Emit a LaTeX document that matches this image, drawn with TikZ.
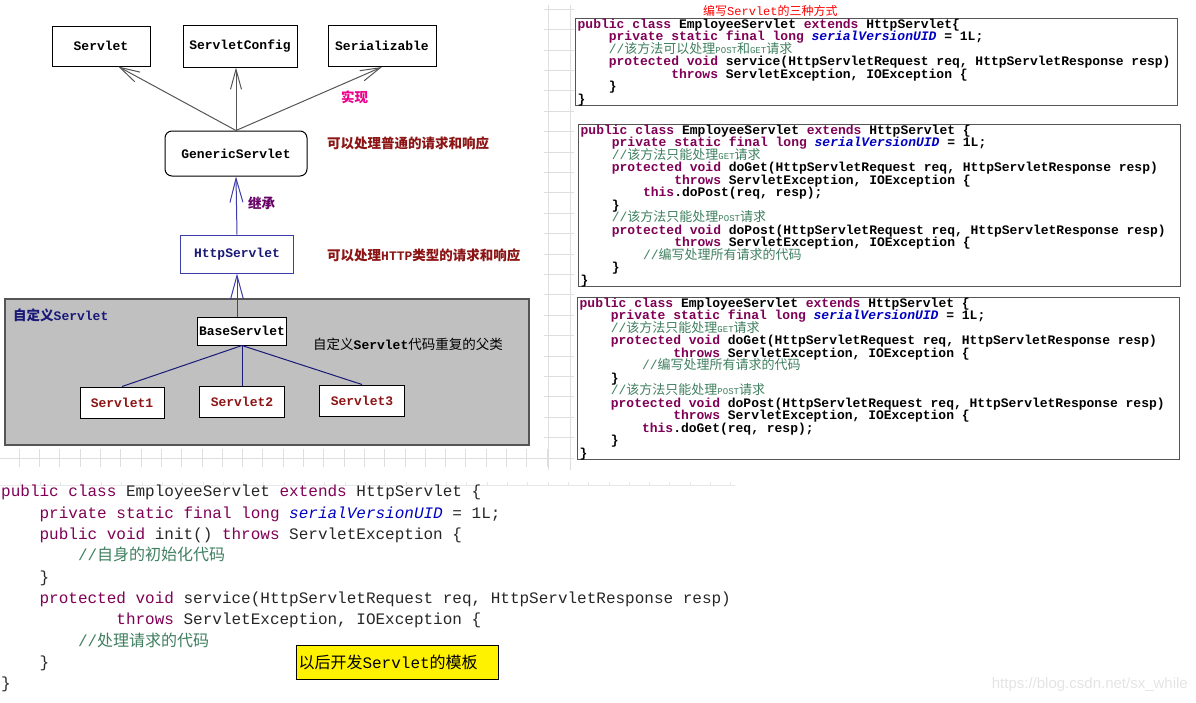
\documentclass[tikz,border=0pt]{standalone}
\usepackage{fontspec}
\setmainfont{Liberation Serif}
\setmonofont{Liberation Mono}[WordSpace={1,0,0}]
\newfontfamily\cjk{Noto Sans CJK SC}
\newfontfamily\wmfont{Liberation Sans}
\usetikzlibrary{arrows.meta}
\usetikzlibrary{positioning}
\definecolor{kwcol}{RGB}{127,0,85}
\definecolor{fldcol}{RGB}{0,0,192}
\definecolor{cmtcol}{RGB}{63,127,95}
\definecolor{linegray}{RGB}{85,85,85}
\definecolor{inhblue}{RGB}{60,60,170}
\definecolor{deepblue}{RGB}{25,25,120}
\definecolor{brick}{RGB}{140,20,20}
\definecolor{regiongray}{RGB}{192,192,192}
\definecolor{gridgray}{RGB}{222,222,222}
\definecolor{wmgray}{RGB}{228,228,228}
\newcommand{\kw}[1]{\textcolor{kwcol}{#1}}
\newcommand{\fld}[1]{\textcolor{fldcol}{\itshape #1}}
\newcommand{\cmt}[1]{\textcolor{cmtcol}{\mdseries #1}}
\newcommand{\zh}[1]{{\cjk #1}}
\newcommand{\smc}[1]{{\fontsize{9}{9}\selectfont #1}}
\newcommand{\codeind}[1]{\hspace*{#1\fontcharwd\font`0}}
\newcommand{\diagfont}{\fontsize{13}{15}\selectfont\ttfamily\bfseries}
\newcommand{\rcode}{\fontsize{13}{12.5}\selectfont\ttfamily\bfseries\lineskiplimit=-20pt}
\newcommand{\bcode}{\fontsize{16}{21.33}\selectfont\ttfamily\lineskiplimit=-20pt}
\tikzset{klass/.style = {draw, fill=white, line width=1pt, inner sep=0, font=\diagfont}}
\tikzset{impl/.style = {draw=linegray, line width=1pt, -{Straight Barb[length=20pt,width=11pt]}}}
\tikzset{inh/.style = {draw=inhblue, line width=1pt, -{Straight Barb[length=24pt,width=13pt]}}}
\tikzset{note/.style = {anchor=west, inner sep=0, font=\fontsize{13.5}{16}\selectfont\cjk\bfseries}}
\tikzset{codebox/.style = {draw=linegray, line width=1.3pt, anchor=north west, align=flush left,
                           text width=598, inner xsep=2, inner ysep=0, font=\rcode}}
\tikzset{code/.style = {anchor=north west, align=left, inner sep=0, text=black!85, font=\bcode}}

\begin{document}
\begin{tikzpicture}[x=1pt, y=-1pt]
      \useasboundingbox (0,0) rectangle (1196,702);
      % faint sheet grid
      \draw [gridgray] (548,5) -- (548,470);
      \draw [gridgray] (570,5) -- (570,470);
      \foreach \gy in {9,29.4,...,458}
        \draw [gridgray] (544,\gy) -- (574,\gy);
      \draw [gridgray] (0,458) -- (574,458);
      \foreach \gx in {19,39.3,...,560}
        \draw [gridgray] (\gx,449) -- (\gx,467);
      \draw [gridgray!70] (0,485) -- (735,485);
      \foreach \gx in {20,40.3,...,735}
        \draw [gridgray!70] (\gx,482) -- (\gx,486);

      % class hierarchy
      \node (servlet) [klass, minimum width=98, minimum height=40] at (101,46) {Servlet};
      \node (sconfig) [klass, minimum width=114, minimum height=42] at (240,46) {ServletConfig};
      \node (serial) [klass, minimum width=108, minimum height=41] at (382,46) {Serializable};
      \node (generic) [klass, rounded corners=7, minimum width=142, minimum height=45] at (236,153.5) {GenericServlet};
      \node (http) [klass, draw=inhblue, text=deepblue, minimum width=113, minimum height=38] at (237,254) {HttpServlet};
      \draw [impl] (generic.north) -- (servlet.310);
      \draw [impl] (generic.north) -- (generic.north |- sconfig.south);
      \draw [impl] (generic.north) -- (serial.south);
      \draw [inh] (http.north) -- (generic.south);
      \node (implnote) [note, text=magenta] at (341,97) {实现};
      \node (inhnote) [note, text=violet!80!black] at (248,203) {继承};
      \node (gennote) [note, text=brick] at (327,143) {可以处理普通的请求和响应};
      \node (httpnote) [note, text=brick] at (327,255) {可以处理{\diagfont HTTP}类型的请求和响应};

      % own servlets
      \node (custom) [draw=linegray, line width=1.5pt, fill=regiongray, minimum width=524, minimum height=146,
                      anchor=north west, inner sep=0] at (4,298) {};
      \node (customnote) [note, text=deepblue] at (13,315) {自定义{\diagfont Servlet}};
      \node (base) [klass, minimum width=89, minimum height=28] at (242,331) {BaseServlet};
      \node (basenote) [note, font=\fontsize{13.5}{16}\selectfont\cjk] at (313,344) {自定义{\diagfont Servlet}代码重复的父类};
      \node (s1) [klass, text=brick, minimum width=84, minimum height=31] at (122,402.5) {Servlet1};
      \node (s2) [klass, text=brick, minimum width=85, minimum height=31] at (242,401.5) {Servlet2};
      \node (s3) [klass, text=brick, minimum width=85, minimum height=31] at (362,400.5) {Servlet3};
      \draw [inh] (http.south |- base.north) -- (http.south);
      \draw [deepblue, line width=1pt] (base.south) -- (s1.north);
      \draw [deepblue, line width=1pt] (base.south) -- (s2.north);
      \draw [deepblue, line width=1pt] (base.south) -- (s3.north);

      % three ways
      \node (waysnote) [anchor=west, inner sep=0, text=red, font=\fontsize{12}{14}\selectfont\cjk] at (703,11)
        {编写{\ttfamily Servlet}的三种方式};
      \node (way1) [codebox] at (575,18) {%
        \kw{public class} EmployeeServlet \kw{extends} HttpServlet\{\\
        \codeind{4}\kw{private static final long} \fld{serialVersionUID} = 1L;\\
        \codeind{4}\cmt{//\zh{该方法可以处理}\smc{POST}\zh{和}\smc{GET}\zh{请求}}\\
        \codeind{4}\kw{protected void} service(HttpServletRequest req, HttpServletResponse resp)\\
        \codeind{12}\kw{throws} ServletException, IOException \{\\
        \codeind{4}\}\\
        \}};
      \node (way2) [codebox] at (578,124) {%
        \kw{public class} EmployeeServlet \kw{extends} HttpServlet \{\\
        \codeind{4}\kw{private static final long} \fld{serialVersionUID} = 1L;\\
        \codeind{4}\cmt{//\zh{该方法只能处理}\smc{GET}\zh{请求}}\\
        \codeind{4}\kw{protected void} doGet(HttpServletRequest req, HttpServletResponse resp)\\
        \codeind{12}\kw{throws} ServletException, IOException \{\\
        \codeind{8}\kw{this}.doPost(req, resp);\\
        \codeind{4}\}\\
        \codeind{4}\cmt{//\zh{该方法只能处理}\smc{POST}\zh{请求}}\\
        \codeind{4}\kw{protected void} doPost(HttpServletRequest req, HttpServletResponse resp)\\
        \codeind{12}\kw{throws} ServletException, IOException \{\\
        \codeind{8}\cmt{//\zh{编写处理所有请求的代码}}\\
        \codeind{4}\}\\
        \}};
      \node (way3) [codebox] at (577,297) {%
        \kw{public class} EmployeeServlet \kw{extends} HttpServlet \{\\
        \codeind{4}\kw{private static final long} \fld{serialVersionUID} = 1L;\\
        \codeind{4}\cmt{//\zh{该方法只能处理}\smc{GET}\zh{请求}}\\
        \codeind{4}\kw{protected void} doGet(HttpServletRequest req, HttpServletResponse resp)\\
        \codeind{12}\kw{throws} ServletException, IOException \{\\
        \codeind{8}\cmt{//\zh{编写处理所有请求的代码}}\\
        \codeind{4}\}\\
        \codeind{4}\cmt{//\zh{该方法只能处理}\smc{POST}\zh{请求}}\\
        \codeind{4}\kw{protected void} doPost(HttpServletRequest req, HttpServletResponse resp)\\
        \codeind{12}\kw{throws} ServletException, IOException \{\\
        \codeind{8}\kw{this}.doGet(req, resp);\\
        \codeind{4}\}\\
        \}};

      % template
      \node (tmpl) [code] at (1,485) {%
        \kw{public class} EmployeeServlet \kw{extends} HttpServlet \{\\
        \codeind{4}\kw{private static final long} \fld{serialVersionUID} = 1L;\\
        \codeind{4}\kw{public void} init() \kw{throws} ServletException \{\\
        \codeind{8}\cmt{//\zh{自身的初始化代码}}\\
        \codeind{4}\}\\
        \codeind{4}\kw{protected void} service(HttpServletRequest req, HttpServletResponse resp)\\
        \codeind{12}\kw{throws} ServletException, IOException \{\\
        \codeind{8}\cmt{//\zh{处理请求的代码}}\\
        \codeind{4}\}\\
        \}};
      \node (tmplnote) [draw, line width=1pt, fill=yellow, anchor=north west, minimum height=34,
                        text width=198, inner xsep=2, inner ysep=0, align=left,
                        font=\fontsize{16}{19}\selectfont\cjk] at (296,645) {以后开发{\ttfamily Servlet}的模板};
      \node (wm) [anchor=east, inner sep=0, text=wmgray, font=\fontsize{15}{18}\selectfont\wmfont] at (1188,685)
        {https://blog.csdn.net/sx\_while};
    \end{tikzpicture}
\end{document}
